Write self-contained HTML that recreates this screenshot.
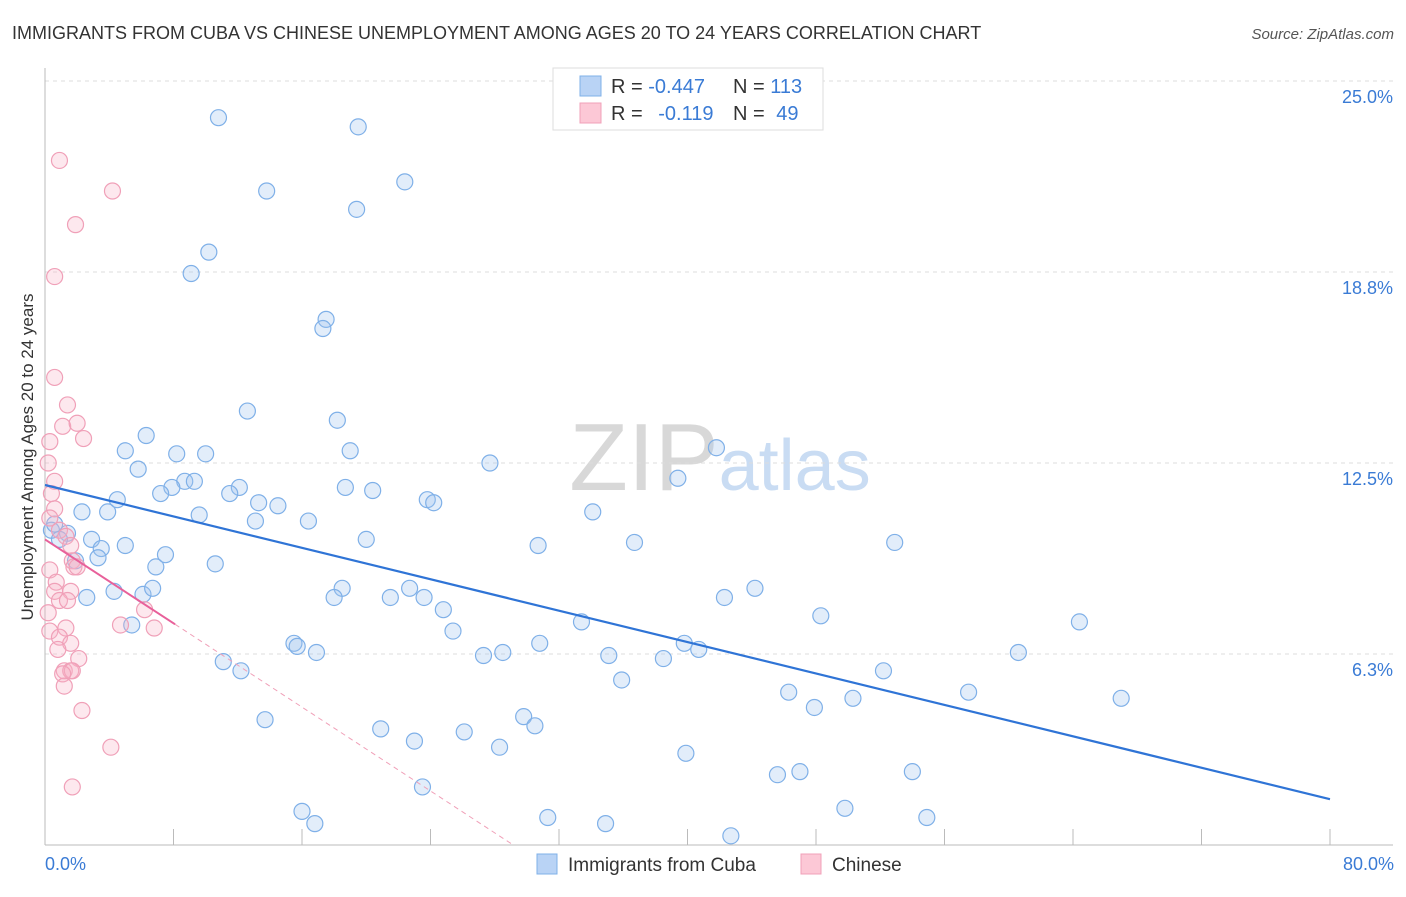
<!DOCTYPE html>
<html><head><meta charset="utf-8">
<style>
body{margin:0;background:#fff;font-family:"Liberation Sans",sans-serif;}
svg text{font-family:"Liberation Sans",sans-serif;}
</style></head>
<body>
<svg id="chart" width="1406" height="892" xmlns="http://www.w3.org/2000/svg">
<text x="12" y="39" font-size="18" fill="#333">IMMIGRANTS FROM CUBA VS CHINESE UNEMPLOYMENT AMONG AGES 20 TO 24 YEARS CORRELATION CHART</text>
<text x="1394" y="39" font-size="15" fill="#555" text-anchor="end" font-style="italic">Source: ZipAtlas.com</text>
<text x="720" y="490" font-size="96" text-anchor="middle" fill="#ddd" font-family="Liberation Serif"><tspan fill="#d8d8d8">ZIP</tspan><tspan fill="#c9dcf3" font-family="Liberation Sans" font-size="72">atlas</tspan></text>
<g id="grid"></g>
<g id="marks"></g>
<text transform="translate(33,457) rotate(-90)" font-size="17" fill="#333" text-anchor="middle">Unemployment Among Ages 20 to 24 years</text>
<text x="45" y="870" font-size="18" fill="#3a7bd5">0.0%</text>
<text x="1394" y="870" font-size="18" fill="#3a7bd5" text-anchor="end">80.0%</text>
<g>
<rect x="553" y="68" width="270" height="62" fill="#fff" stroke="#ddd"/>
<rect x="580" y="76" width="21" height="20" fill="#b9d3f5" stroke="#7fb0e8"/>
<rect x="580" y="103" width="21" height="20" fill="#fcc8d6" stroke="#f0a0b8"/>
<text x="611" y="93" font-size="20" fill="#333">R = <tspan fill="#3a7bd5">-0.447</tspan></text>
<text x="733" y="93" font-size="20" fill="#333">N = <tspan fill="#3a7bd5">113</tspan></text>
<text x="611" y="120" font-size="20" fill="#333">R = <tspan fill="#3a7bd5" dx="10">-0.119</tspan></text>
<text x="733" y="120" font-size="20" fill="#333">N = <tspan fill="#3a7bd5" dx="6">49</tspan></text>
</g>
<g>
<rect x="537" y="854" width="20" height="20" fill="#b9d3f5" stroke="#7fb0e8"/>
<text x="568" y="871" font-size="19" fill="#333">Immigrants from Cuba</text>
<rect x="801" y="854" width="20" height="20" fill="#fcc8d6" stroke="#f0a0b8"/>
<text x="832" y="871" font-size="19" fill="#333">Chinese</text>
</g>
</svg>
<script>
const yTicks=[6.25,12.5,18.75,25];
const yTickLabels=["6.3%","12.5%","18.8%","25.0%"];
const xTicks=[0,8,16,24,32,40,48,56,64,72,80];
const cubaX=[10.8,19.5,13.8,22.4,19.4,10.2,9.1,17.5,17.3,12.6,18.2,6.3,5.0,8.2,10.0,19.0,27.7,41.8,39.4,5.8,8.7,9.3,7.9,7.2,12.1,11.5,18.7,20.4,13.3,14.5,4.5,2.3,3.9,9.6,13.1,16.4,23.8,24.2,34.1,0.4,1.4,0.9,2.9,5.0,3.5,3.3,1.9,7.5,6.9,10.6,20.0,30.7,36.7,52.9,2.6,4.3,6.1,6.7,18.5,18.0,22.7,21.5,23.6,24.8,44.2,42.3,48.3,5.4,25.4,33.4,64.4,15.5,15.7,16.9,30.8,39.8,27.3,28.5,35.1,38.5,40.7,60.6,11.1,12.2,35.9,52.2,46.3,47.9,50.3,57.5,67.0,13.7,20.9,23.0,26.1,29.8,30.5,28.3,39.9,45.6,47.0,54.0,23.5,16.0,16.8,31.3,34.9,49.8,54.9,42.7,0.6];
const cubaY=[23.8,23.5,21.4,21.7,20.8,19.4,18.7,17.2,16.9,14.2,13.9,13.4,12.9,12.8,12.8,12.9,12.5,13.0,12.0,12.3,11.9,11.9,11.7,11.5,11.7,11.5,11.7,11.6,11.2,11.1,11.3,10.9,10.9,10.8,10.6,10.6,11.3,11.2,10.9,10.3,10.2,10.0,10.0,9.8,9.7,9.4,9.3,9.5,9.1,9.2,10.0,9.8,9.9,9.9,8.1,8.3,8.2,8.4,8.4,8.1,8.4,8.1,8.1,7.7,8.4,8.1,7.5,7.2,7.0,7.3,7.3,6.6,6.5,6.3,6.6,6.6,6.2,6.3,6.2,6.1,6.4,6.3,6.0,5.7,5.4,5.7,5.0,4.5,4.8,5.0,4.8,4.1,3.8,3.4,3.7,4.2,3.9,3.2,3.0,2.3,2.4,2.4,1.9,1.1,0.7,0.9,0.7,1.2,0.9,0.3,10.5];
const chineseX=[0.9,4.2,1.9,0.6,0.6,1.4,1.1,2.0,2.4,0.3,0.2,0.6,0.4,0.6,0.3,0.9,1.3,1.6,1.7,1.8,2.0,0.3,0.7,0.6,1.6,0.9,1.4,0.2,6.2,4.7,6.8,1.3,0.3,0.9,1.6,0.8,2.1,1.2,1.6,1.7,1.1,1.2,2.3,4.1,1.7];
const chineseY=[22.4,21.4,20.3,18.6,15.3,14.4,13.7,13.8,13.3,13.2,12.5,11.9,11.5,11.0,10.7,10.3,10.1,9.8,9.3,9.1,9.1,9.0,8.6,8.3,8.3,8.0,8.0,7.6,7.7,7.2,7.1,7.1,7.0,6.8,6.6,6.4,6.1,5.7,5.7,5.7,5.6,5.2,4.4,3.2,1.9];
const cubaTrend=[11.78,1.5];
const chineseTrend=[10.0,-0.343];
const NS="http://www.w3.org/2000/svg";
const L=45,R=1330,T=81,B=845;
const sx=v=>L+(v/80)*(R-L);
const sy=v=>B-(v/25)*(B-T);
function mk(tag,attrs,parent){const e=document.createElementNS(NS,tag);for(const k in attrs)e.setAttribute(k,attrs[k]);parent.appendChild(e);return e;}
const grid=document.getElementById('grid'),marks=document.getElementById('marks');
yTicks.forEach((t,i)=>{
 const ln=mk('line',{x1:L,x2:1393,y1:sy(t),y2:sy(t),stroke:'#ddd','stroke-dasharray':'4,4'},grid);
 
 
 const tx=mk('text',{x:1393,y:sy(t)+22,'font-size':18,fill:'#3a7bd5','text-anchor':'end'},grid);
 tx.textContent=yTickLabels[i];
 
 
});
const xa=mk('line',{x1:L,x2:1393,y1:B,y2:B,stroke:'#bbb'},grid);


const ya=mk('line',{x1:L,x2:L,y1:68,y2:B,stroke:'#bbb'},grid);


xTicks.forEach(t=>{
 const tk=mk('line',{x1:sx(t),x2:sx(t),y1:B,y2:B-16,stroke:'#bbb'},grid);
 
 
});
cubaX.forEach((x,i)=>{
 const c=mk('circle',{cx:sx(x),cy:sy(cubaY[i]),r:8,fill:'rgba(160,195,240,0.3)',stroke:'#7fb0e8','stroke-width':1.2},marks);
 
 
});
chineseX.forEach((x,i)=>{
 const c=mk('circle',{cx:sx(x),cy:sy(chineseY[i]),r:8,fill:'rgba(250,180,200,0.3)',stroke:'#f0a0b8','stroke-width':1.2},marks);
 
 
});
const bl=mk('line',{x1:sx(0),y1:sy(cubaTrend[0]),x2:sx(80),y2:sy(cubaTrend[1]),stroke:'#2f74d6','stroke-width':2.2},marks);


const pEnd=8.1, pZero=-chineseTrend[0]/chineseTrend[1];
const pl=mk('line',{x1:sx(0),y1:sy(chineseTrend[0]),x2:sx(pEnd),y2:sy(chineseTrend[0]+chineseTrend[1]*pEnd),stroke:'#e8609a','stroke-width':2},marks);


const pd=mk('line',{x1:sx(pEnd),y1:sy(chineseTrend[0]+chineseTrend[1]*pEnd),x2:sx(pZero),y2:sy(0),stroke:'#f0a0b8','stroke-width':1,'stroke-dasharray':'5,4'},marks);


</script>
</body></html>
